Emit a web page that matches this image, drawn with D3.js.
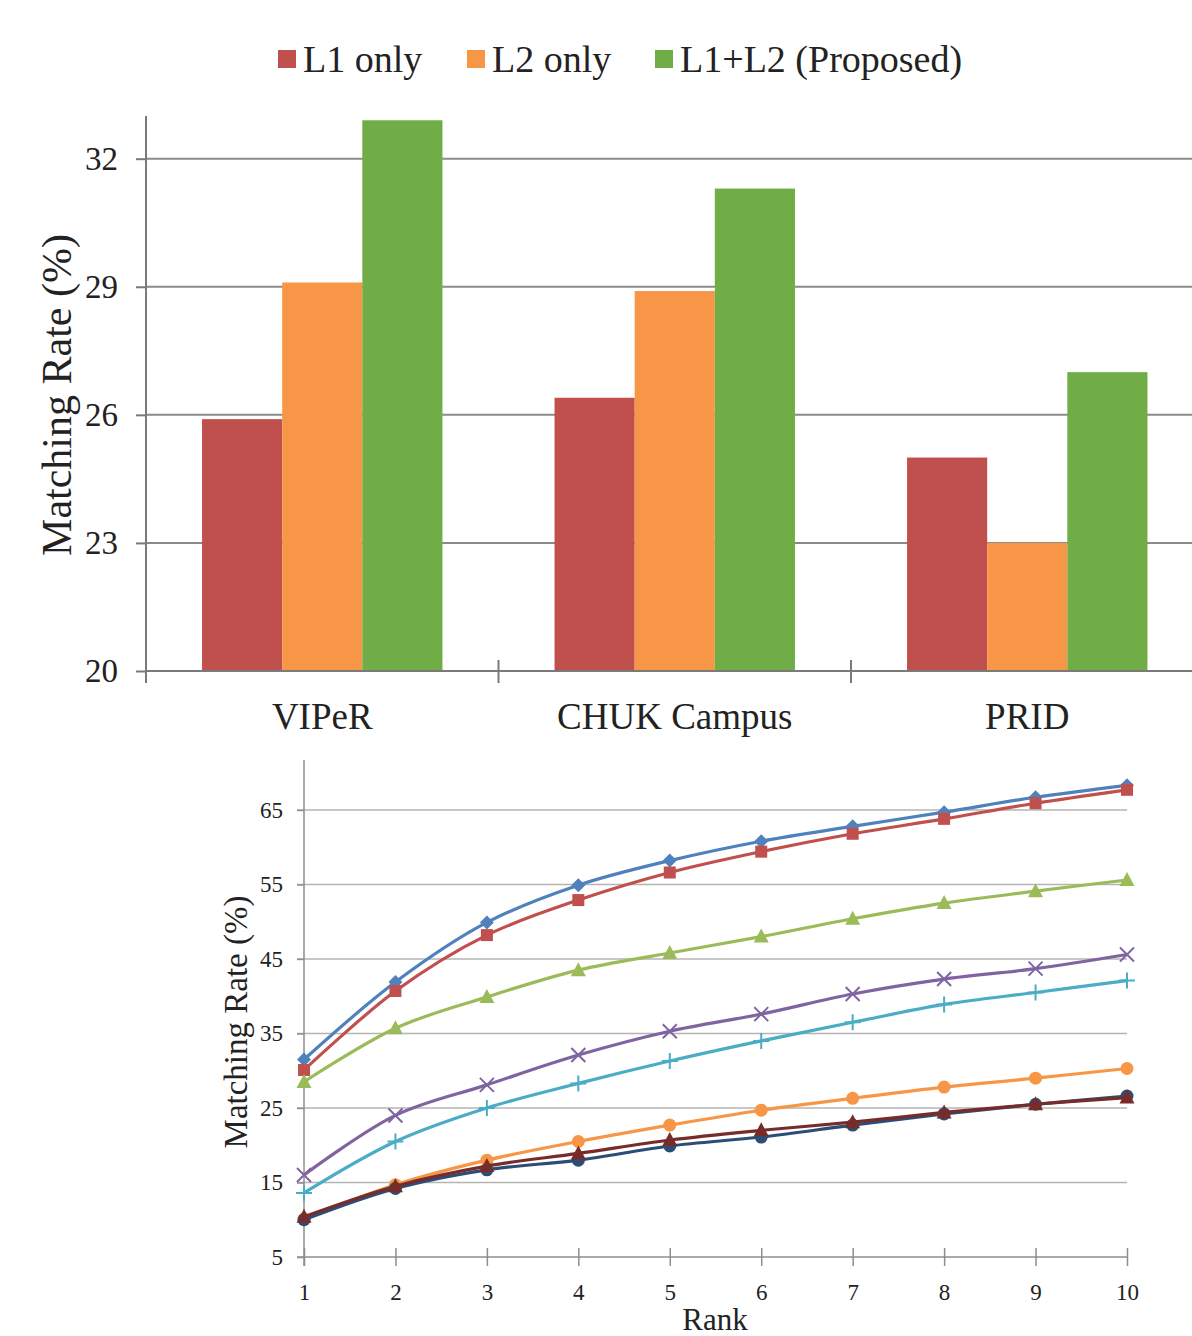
<!DOCTYPE html>
<html>
<head>
<meta charset="utf-8">
<title>Matching Rate</title>
<script src="https://cdn.jsdelivr.net/npm/d3@7"></script>
<style>
  html, body { margin: 0; padding: 0; background: #fff; }
  text { font-family: "Liberation Serif", "Times New Roman", serif; fill: #222; }
</style>
</head>
<body>
<div id="graph"></div>
<script>
// ---- bar chart data
var datasets = ["VIPeR", "CHUK Campus", "PRID"];
var barSeries = ["L1 only", "L2 only", "L1+L2 (Proposed)"];
var barColors = ["#C0504D", "#F79646", "#70AD47"];
var l1Only = [25.9, 26.4, 25.0];
var l2Only = [29.1, 28.9, 23.0];
var l1l2 = [32.9, 31.3, 27.0];
var barTicks = [20, 23, 26, 29, 32];

// ---- CMC curves data
var ranks = [1, 2, 3, 4, 5, 6, 7, 8, 9, 10];
var curveBlue = [31.5, 41.9, 49.9, 54.9, 58.2, 60.8, 62.8, 64.7, 66.7, 68.3];
var curveRed = [30.1, 40.7, 48.2, 52.9, 56.6, 59.4, 61.8, 63.8, 65.9, 67.7];
var curveGreen = [28.5, 35.7, 39.9, 43.5, 45.8, 48.0, 50.4, 52.5, 54.1, 55.6];
var curvePurple = [16.0, 24.0, 28.1, 32.1, 35.3, 37.6, 40.3, 42.3, 43.7, 45.6];
var curveCyan = [13.6, 20.5, 25.0, 28.3, 31.3, 34.0, 36.5, 38.9, 40.5, 42.1];
var curveOrange = [10.1, 14.7, 18.0, 20.5, 22.7, 24.7, 26.3, 27.8, 29.0, 30.3];
var curveNavy = [10.0, 14.2, 16.7, 18.0, 19.9, 21.1, 22.7, 24.2, 25.5, 26.6];
var curveMaroon = [10.4, 14.5, 17.2, 18.9, 20.7, 22.0, 23.1, 24.4, 25.5, 26.4];
var cmcTicks = [5, 15, 25, 35, 45, 55, 65];

var W = 1192, H = 1336;
var svg = d3.select('#graph').append('svg').attr('width', W).attr('height', H);

// ================= top: grouped bars =================
var barVals = [l1Only, l2Only, l1l2];
var x0 = d3.scaleBand().domain(datasets).range([146, 1203.5]);
var bw = x0.bandwidth();
var x1 = d3.scaleBand().domain(barSeries).range([bw * 0.159, bw * 0.841]);
var y0 = d3.scaleLinear().domain([20, 33]).range([671, 116]);

var gTop = svg.append('g');

// gridlines
gTop.selectAll('line.grid').data(barTicks.slice(1)).enter().append('line')
  .attr('x1', 146).attr('x2', W)
  .attr('y1', function(d) { return y0(d); }).attr('y2', function(d) { return y0(d); })
  .attr('stroke', '#8a8a8a').attr('stroke-width', 2);

// bars
datasets.forEach(function(ds, i) {
  barSeries.forEach(function(s, j) {
    gTop.append('rect')
      .attr('x', x0(ds) + x1(s))
      .attr('width', x1.bandwidth())
      .attr('y', y0(barVals[j][i]))
      .attr('height', y0(20) - y0(barVals[j][i]))
      .attr('fill', barColors[j]);
  });
});

// y axis
var yAxisTop = d3.axisLeft(y0).tickValues(barTicks).tickSize(10).tickPadding(18).tickFormat(d3.format('d'));
var gyt = gTop.append('g').attr('transform', 'translate(146,0)').call(yAxisTop);
gyt.select('.domain').attr('d', 'M0,116V683');
gyt.selectAll('line').attr('stroke', '#7a7a7a').attr('stroke-width', 2);
gyt.select('.domain').attr('stroke', '#7a7a7a').attr('stroke-width', 2);
gyt.selectAll('text').style('font-size', '33px').attr('fill', '#222');

// x axis
gTop.append('line').attr('x1', 146).attr('x2', W).attr('y1', y0(20)).attr('y2', y0(20))
  .attr('stroke', '#7a7a7a').attr('stroke-width', 2);
gTop.selectAll('line.xt').data(datasets.slice(1)).enter().append('line')
  .attr('x1', function(d) { return x0(d); }).attr('x2', function(d) { return x0(d); })
  .attr('y1', y0(20) - 11).attr('y2', y0(20) + 12)
  .attr('stroke', '#7a7a7a').attr('stroke-width', 2);
gTop.selectAll('text.cat').data(datasets).enter().append('text')
  .attr('x', function(d) { return x0(d) + bw / 2; })
  .attr('y', 729)
  .attr('text-anchor', 'middle')
  .style('font-size', '37px')
  .text(function(d) { return d; });

// y title
gTop.append('text')
  .attr('transform', 'translate(71,395) rotate(-90)')
  .attr('text-anchor', 'middle')
  .style('font-size', '42px')
  .text('Matching Rate (%)');

// legend
var legX = [278, 467, 655];
barSeries.forEach(function(s, j) {
  gTop.append('rect').attr('x', legX[j]).attr('y', 50).attr('width', 18).attr('height', 18)
    .attr('fill', barColors[j]);
  gTop.append('text').attr('x', legX[j] + 25).attr('y', 72)
    .style('font-size', '38px').text(s);
});

// ================= bottom: CMC curves =================
var curves = [
  { v: curveBlue, c: '#4F81BD', m: 'diamond' },
  { v: curveRed, c: '#C0504D', m: 'square' },
  { v: curveGreen, c: '#9BBB59', m: 'triangle' },
  { v: curvePurple, c: '#8064A2', m: 'x' },
  { v: curveCyan, c: '#4BACC6', m: 'plus' },
  { v: curveOrange, c: '#F79646', m: 'circle' },
  { v: curveNavy, c: '#2C4D75', m: 'circle' },
  { v: curveMaroon, c: '#772C2A', m: 'triangle' }
];

var xs = d3.scaleLinear().domain([1, 10]).range([304, 1127]);
var ys = d3.scaleLinear().domain([5, 71.7]).range([1257, 760]);

var gBot = svg.append('g');

gBot.selectAll('line.g2').data(cmcTicks.slice(1)).enter().append('line')
  .attr('x1', 297).attr('x2', 1127)
  .attr('y1', function(d) { return ys(d); }).attr('y2', function(d) { return ys(d); })
  .attr('stroke', '#b4b4b4').attr('stroke-width', 1.5);

var yAxisBot = d3.axisLeft(ys).tickValues(cmcTicks).tickSize(7).tickPadding(14);
var gyb = gBot.append('g').attr('transform', 'translate(304,0)').call(yAxisBot);
gyb.select('.domain').attr('d', 'M0,760V1266').attr('stroke', '#8e8e8e').attr('stroke-width', 1.5);
gyb.selectAll('line').attr('stroke', '#8e8e8e').attr('stroke-width', 1.5);
gyb.selectAll('text').style('font-size', '23px').attr('fill', '#222');

var xAxisBot = d3.axisBottom(xs).tickValues(ranks).tickSize(9).tickPadding(18).tickFormat(d3.format('d'));
var gxb = gBot.append('g').attr('transform', 'translate(0,' + ys(5) + ')').call(xAxisBot);
gxb.select('.domain').attr('d', 'M297,0H1127').attr('stroke', '#8e8e8e').attr('stroke-width', 1.5);
gxb.selectAll('.tick line').attr('y1', -9).attr('stroke', '#8e8e8e').attr('stroke-width', 1.5);
gxb.selectAll('text').style('font-size', '23px').attr('fill', '#222');

gBot.append('text').attr('x', 715).attr('y', 1330).attr('text-anchor', 'middle')
  .style('font-size', '31px').text('Rank');
gBot.append('text')
  .attr('transform', 'translate(247,1022) rotate(-90)')
  .attr('text-anchor', 'middle')
  .style('font-size', '33px')
  .text('Matching Rate (%)');

var line = d3.line()
  .x(function(d, i) { return xs(ranks[i]); })
  .y(function(d) { return ys(d); })
  .curve(d3.curveCatmullRom.alpha(0.5));

function marker(g, type, x, y, col) {
  if (type === 'diamond') {
    g.append('path').attr('d', 'M' + x + ',' + (y - 7) + 'L' + (x + 7) + ',' + y + 'L' + x + ',' + (y + 7) + 'L' + (x - 7) + ',' + y + 'Z').attr('fill', col);
  } else if (type === 'square') {
    g.append('rect').attr('x', x - 6).attr('y', y - 6).attr('width', 12).attr('height', 12).attr('fill', col);
  } else if (type === 'triangle') {
    g.append('path').attr('d', 'M' + x + ',' + (y - 8) + 'L' + (x + 7.5) + ',' + (y + 6) + 'L' + (x - 7.5) + ',' + (y + 6) + 'Z').attr('fill', col);
  } else if (type === 'circle') {
    g.append('circle').attr('cx', x).attr('cy', y).attr('r', 6.5).attr('fill', col);
  } else if (type === 'x') {
    g.append('path').attr('d', 'M' + (x - 7) + ',' + (y - 7) + 'L' + (x + 7) + ',' + (y + 7) + 'M' + (x + 7) + ',' + (y - 7) + 'L' + (x - 7) + ',' + (y + 7))
      .attr('stroke', col).attr('stroke-width', 2).attr('fill', 'none');
  } else if (type === 'plus') {
    g.append('path').attr('d', 'M' + (x - 8) + ',' + y + 'L' + (x + 8) + ',' + y + 'M' + x + ',' + (y - 8) + 'L' + x + ',' + (y + 8))
      .attr('stroke', col).attr('stroke-width', 2).attr('fill', 'none');
  }
}

curves.forEach(function(cv) {
  var g = gBot.append('g');
  g.append('path').datum(cv.v).attr('d', line)
    .attr('fill', 'none').attr('stroke', cv.c).attr('stroke-width', 3.2);
  cv.v.forEach(function(v, i) { marker(g, cv.m, xs(ranks[i]), ys(v), cv.c); });
});
</script>
</body>
</html>
